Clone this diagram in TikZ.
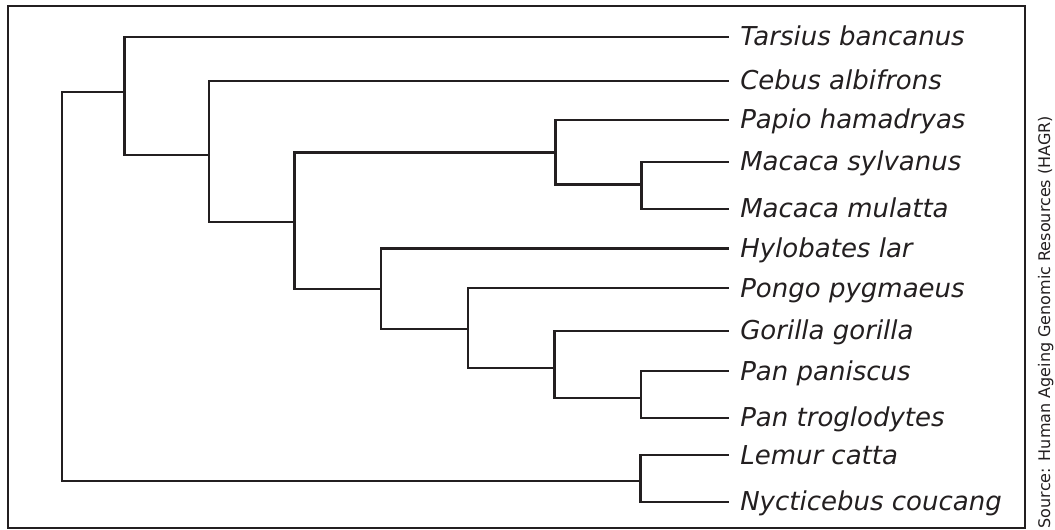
\documentclass[tikz,border=0pt]{standalone}
\usepackage{fontspec}
\setmainfont{DejaVu Sans}
\definecolor{ink}{HTML}{231F20}
\begin{document}
\begin{tikzpicture}[x=0.75pt,y=-0.75pt,
  branch/.style={draw=ink,line width=1.7pt,line cap=rect,line join=miter},
  frame/.style={draw=ink,line width=1.5pt},
  taxon/.style={anchor=base west,inner sep=0pt,text=ink,
    font=\fontsize{19.5}{23}\selectfont\itshape},
  credit/.style={anchor=base west,inner sep=0pt,rotate=90,text=ink,
    font=\fontsize{12}{14}\selectfont}]
\useasboundingbox (0,0) rectangle (1055,530);
\draw[frame] (8,6.5) rectangle (1025,527.5);

% tip ends of the branches
\coordinate (e1)  at (727.7,36.7);
\coordinate (e2)  at (727.7,80.7);
\coordinate (e3)  at (727.7,120);
\coordinate (e4)  at (727.7,162);
\coordinate (e5)  at (727.7,209);
\coordinate (e6)  at (727.7,248.5);
\coordinate (e7)  at (727.7,288.3);
\coordinate (e8)  at (727.7,331);
\coordinate (e9)  at (727.7,371);
\coordinate (e10) at (727.7,417.7);
\coordinate (e11) at (727.7,455);
\coordinate (e12) at (727.7,501.7);

% species names
\node[taxon] (t1)  at (740,45.7)  {Tarsius bancanus};
\node[taxon] (t2)  at (740,89.7)  {Cebus albifrons};
\node[taxon] (t3)  at (740,129)   {Papio hamadryas};
\node[taxon] (t4)  at (740,171)   {Macaca sylvanus};
\node[taxon] (t5)  at (740,218)   {Macaca mulatta};
\node[taxon] (t6)  at (740,257.5) {Hylobates lar};
\node[taxon] (t7)  at (740,297.3) {Pongo pygmaeus};
\node[taxon] (t8)  at (740,340)   {Gorilla gorilla};
\node[taxon] (t9)  at (740,380)   {Pan paniscus};
\node[taxon] (t10) at (740,426.7) {Pan troglodytes};
\node[taxon] (t11) at (740,464)   {Lemur catta};
\node[taxon] (t12) at (740,510.7) {Nycticebus coucang};

% internal nodes: x of the split, y where the stem joins
\coordinate (root) at (62,91.7);
\coordinate (nA)  at (124.5,91.7);
\coordinate (nB)  at (209,155);
\coordinate (nC)  at (294.5,221.7);
\coordinate (nPM) at (555.5,152.5);
\coordinate (nMM) at (641.5,184.5);
\coordinate (nD)  at (381,289.3);
\coordinate (nE)  at (468,329.3);
\coordinate (nGP) at (554.5,368.3);
\coordinate (nPP) at (641,397.7);
\coordinate (nL)  at (640.5,481);

% branches
\draw[branch] (root) |- (nA);
\draw[branch] (root) |- (nL);
\draw[branch] (nA) |- (e1);
\draw[branch] (nA) |- (nB);
\draw[branch] (nB) |- (e2);
\draw[branch] (nB) |- (nC);
\draw[branch] (nC) |- (nPM);
\draw[branch] (nC) |- (nD);
\draw[branch] (nPM) |- (e3);
\draw[branch] (nPM) |- (nMM);
\draw[branch] (nMM) |- (e4);
\draw[branch] (nMM) |- (e5);
\draw[branch] (nD) |- (e6);
\draw[branch] (nD) |- (nE);
\draw[branch] (nE) |- (e7);
\draw[branch] (nE) |- (nGP);
\draw[branch] (nGP) |- (e8);
\draw[branch] (nGP) |- (nPP);
\draw[branch] (nPP) |- (e9);
\draw[branch] (nPP) |- (e10);
\draw[branch] (nL) |- (e11);
\draw[branch] (nL) |- (e12);

\node[credit] (src) at (1050,528.5) {Source: Human Ageing Genomic Resources (HAGR)};
\end{tikzpicture}
\end{document}
